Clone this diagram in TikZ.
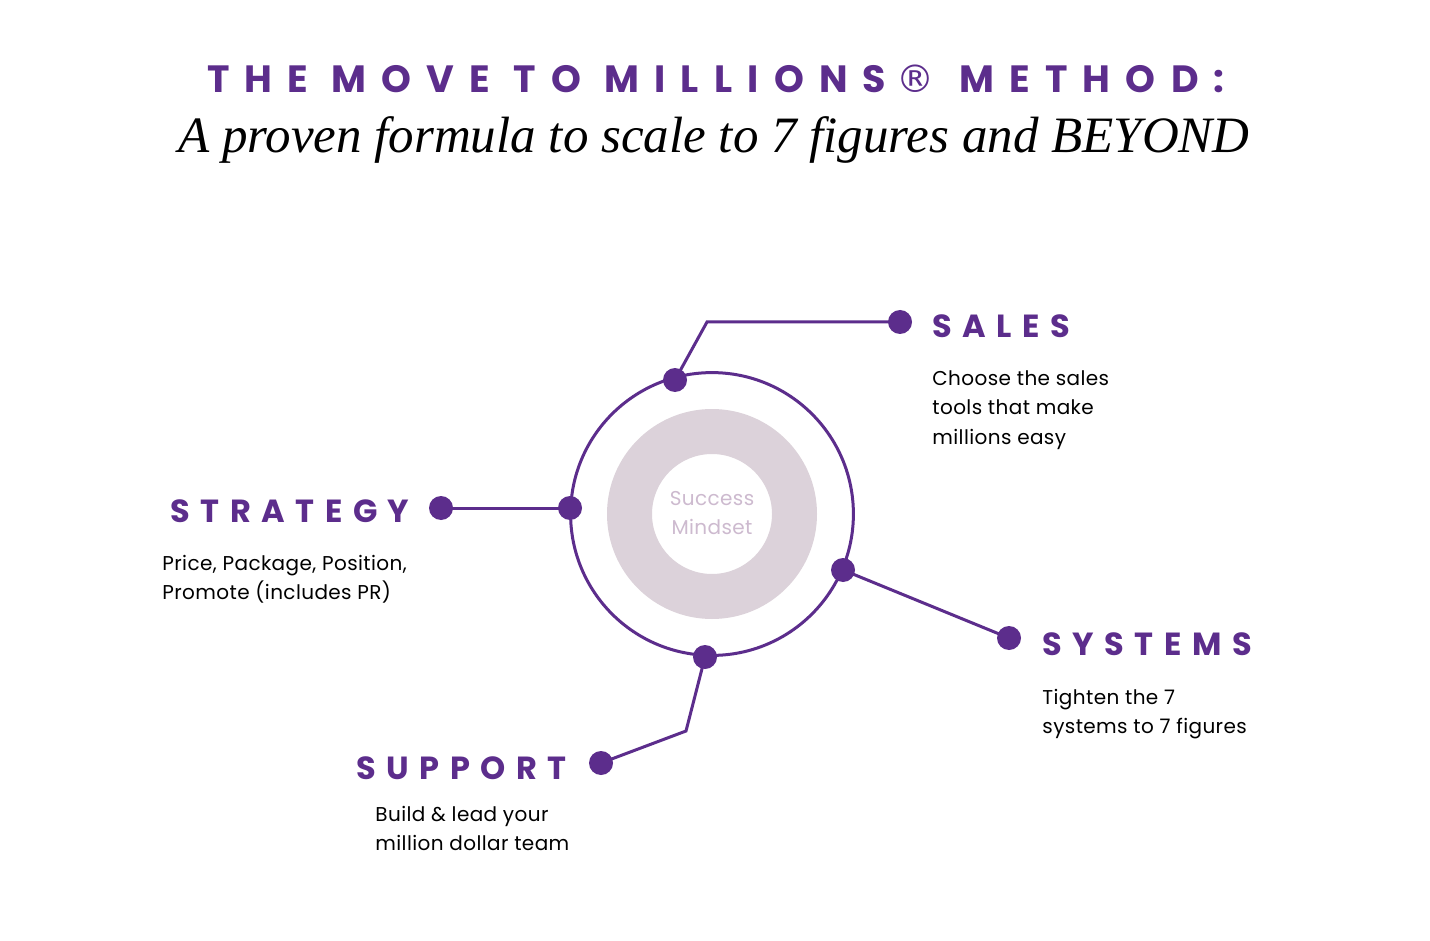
\documentclass[tikz,border=0pt]{standalone}
\usepackage{fontspec}
\setmainfont{Poppins}
\newfontfamily\headfont[LetterSpace=40]{Poppins}
\newfontfamily\labfont[LetterSpace=33]{Poppins}
\newfontfamily\bodyfont[LetterSpace=2]{Poppins}
\newfontfamily\subfont{Liberation Serif}
\newfontfamily\symfont{DejaVu Sans}
\usepackage{tikz}
\definecolor{mmpurple}{HTML}{5C2D8C}
\definecolor{ringgray}{HTML}{DCD2DA}
\definecolor{mindgray}{HTML}{CDBACF}
\tikzset{
	dot/.style={circle, fill=mmpurple, inner sep=0pt, minimum size=12pt},
	link/.style={draw=mmpurple, line width=1.5pt},
	lab/.style={anchor=base west, inner sep=0pt, text=mmpurple, font=\labfont\bfseries\fontsize{16}{18}\selectfont},
	body/.style={anchor=base west, inner sep=0pt, align=left, font=\bodyfont\fontsize{10}{14.5}\selectfont}
}

\begin{document}
\begin{tikzpicture}[x=0.5pt, y=-0.5pt]
					\useasboundingbox[fill=white] (0, 0) rectangle (1430, 941);
					% titles
					\node[anchor=base, inner sep=0pt, text=mmpurple, font=\headfont\bfseries\fontsize{19}{20}\selectfont] (T) at (716, 93) {THE MOVE TO MILLIONS\hspace{5pt}{\symfont\mdseries ®}\hspace{1pt} METHOD:};
					\node[anchor=base, inner sep=0pt, font=\subfont\itshape\fontsize{25.5}{30}\selectfont] (ST) at (714, 153) {A proven formula to scale to 7 figures and BEYOND};
					% centre
					\fill[ringgray, even odd rule] (712, 514) circle (52.5pt) circle (30pt);
					\draw[link] (712, 514) circle (70.7pt);
					\node[align=center, text=mindgray, font=\bodyfont\fontsize{10}{14.5}\selectfont] (M) at (712, 513) {Success\\Mindset};
					% dots
					\node[dot] (salesin) at (675, 380) {};
					\node[dot] (salesout) at (900, 322) {};
					\node[dot] (stratin) at (570, 508) {};
					\node[dot] (stratout) at (441, 508) {};
					\node[dot] (sysin) at (843, 570) {};
					\node[dot] (sysout) at (1009, 638) {};
					\node[dot] (supin) at (705, 657) {};
					\node[dot] (supout) at (601, 763) {};
					\coordinate (salesbend) at (707, 322);
					\coordinate (supbend) at (686, 731);
					% links
					\draw[link] (salesin.center) -- (salesbend) -- (salesout.center);
					\draw[link] (stratin.center) -- (stratout.center);
					\draw[link] (sysin.center) -- (sysout.center);
					\draw[link] (supin.center) -- (supbend) -- (supout.center);
					% labels
					\node[lab] (SA) at (932, 337) {SALES};
					\node[lab] (STR) at (170, 522) {STRATEGY};
					\node[lab] (SY) at (1042, 655) {SYSTEMS};
					\node[lab] (SU) at (356, 779) {SUPPORT};
					\node[body] (SAt) at (932, 444) {Choose the sales\\tools that make\\millions easy};
					\node[body] (STRt) at (162, 599) {Price, Package, Position,\\Promote (includes PR)};
					\node[body] (SYt) at (1042, 733) {Tighten the 7\\systems to 7 figures};
					\node[body] (SUt) at (375, 850) {Build \& lead your\\million dollar team};
				\end{tikzpicture}
\end{document}
